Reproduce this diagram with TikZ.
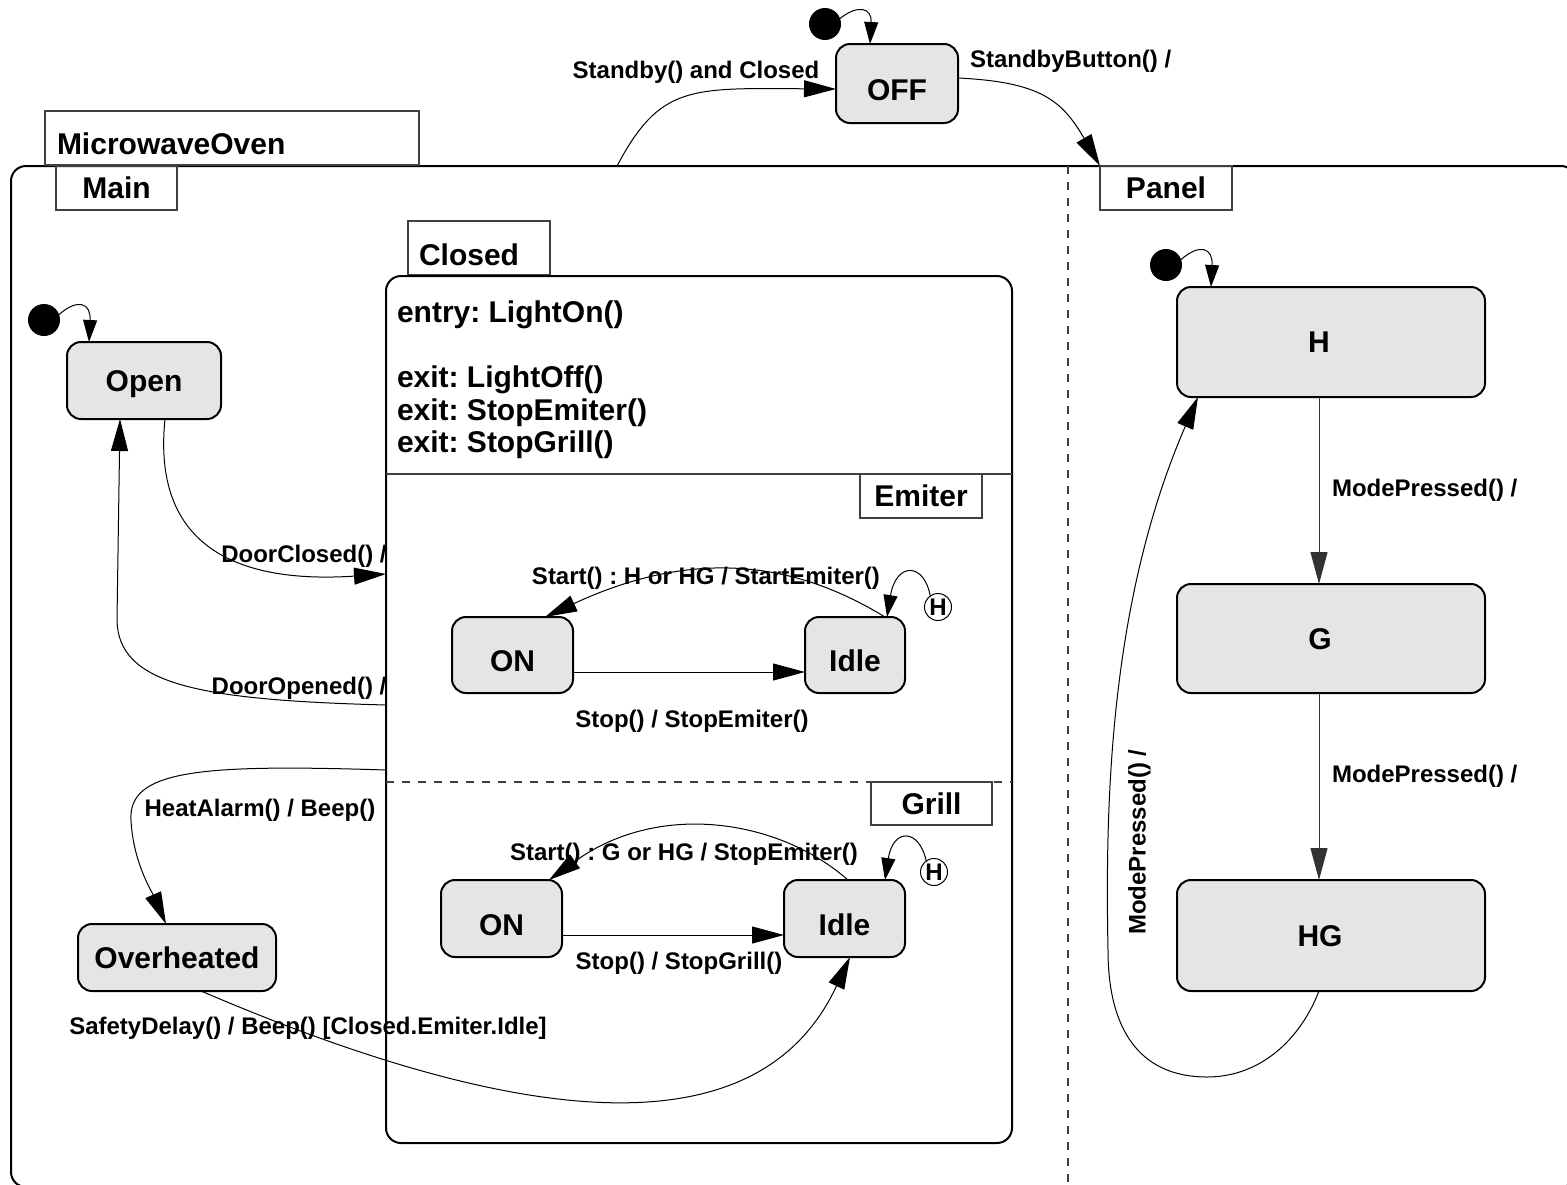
\documentclass[tikz,border=0pt]{standalone}
\usepackage{fontspec}
\setmainfont{Liberation Sans}
\usetikzlibrary{arrows.meta}
\frenchspacing

\begin{document}
\begin{tikzpicture}[x=1pt,y=-1pt,
  every node/.style={outer sep=0pt},
  big/.style={font=\bfseries\fontsize{30}{36}\selectfont},
  small/.style={font=\bfseries\fontsize{24}{29}\selectfont},
  state/.style={draw, line width=2pt, rounded corners=14pt, fill=black!10,
    inner sep=0pt, big, text height=21.5pt, text depth=0pt},
  lowtext/.style={text height=33pt},
  statetext/.style={big, inner sep=0pt, text height=21.5pt, text depth=0pt},
  tab/.style={draw=black!75, line width=1.1pt, inner sep=0pt, big,
    text height=21.5pt, text depth=0pt},
  region/.style={draw, line width=2pt, rounded corners=15pt, inner sep=0pt},
  lbl/.style={small, inner sep=0pt, text height=17pt, text depth=0pt},
  trans/.style={line width=1pt, -{Triangle[length=32pt,width=17pt]}},
  ptrans/.style={line width=1pt, -{Triangle[length=22pt,width=14pt]}},
  initial/.style={circle, fill=black, minimum size=32pt, inner sep=0pt},
  hist/.style={circle, draw, line width=1pt, minimum size=27pt, inner sep=0pt,
    small, text height=17pt, text depth=0pt},
  divider/.style={black!75, line width=1.2pt, dash pattern=on 8pt off 8pt},
]
\useasboundingbox (0,0) rectangle (1567,1184);
\clip (0,0) rectangle (1567,1184);

% ---------- top level: oven region and its tabs ----------
\node[region, minimum width=1565pt, minimum height=1021pt] (oven) at (793.5,676.5) {};
\node[tab, minimum width=374pt, minimum height=54pt, text width=350pt, align=left,
      text height=32pt] (tmw) at (232,138) {MicrowaveOven};
\node[tab, minimum width=121pt, minimum height=44pt] (tmain) at (116.5,188) {Main};
\node[tab, minimum width=132pt, minimum height=44pt] (tpanel) at (1166,188) {Panel};

% concurrent split between Main and Panel
\coordinate (split) at (1068,166);
\draw[divider] (split) -- (split |- oven.south);

% ---------- Closed composite state ----------
\node[tab, minimum width=142pt, minimum height=54pt, text width=120pt, align=left,
      text height=34pt] (tclosed) at (479,248) {Closed};
\node[region, minimum width=626pt, minimum height=867pt] (closed) at (699,709.5) {};
\node[big, anchor=base west, inner sep=0pt] (entry) at (397,322) {entry: LightOn()};
\node[big, anchor=base west, inner sep=0pt] (exita) at (397,387) {exit: LightOff()};
\node[big, anchor=base west, inner sep=0pt] (exitb) at (397,420) {exit: StopEmiter()};
\node[big, anchor=base west, inner sep=0pt] (exitc) at (397,452) {exit: StopGrill()};

\node[tab, minimum width=122pt, minimum height=44pt] (temiter) at (921,496) {Emiter};
\node[tab, minimum width=121pt, minimum height=43pt] (tgrill) at (931.5,803.5) {Grill};
\draw[black!75, line width=1.5pt] (closed.west |- temiter.north) -- (closed.east |- temiter.north);
\draw[divider] (closed.west |- tgrill.north) -- (closed.east |- tgrill.north);

% ---------- OFF ----------
\node[state, lowtext, minimum width=122pt, minimum height=79pt] (off) at (897,83.5) {OFF};
\node[initial] (i1) at (825,24) {};
\draw[ptrans] (i1.20) .. controls (858,4) and (872,8) .. ([xshift=-27pt]off.north);
\draw[trans] ([xshift=606pt]oven.north west) .. controls (660,85) and (690,88) .. ([yshift=-5.5pt]off.west);
\node[lbl] (lstandby) at (696,70) {Standby() and Closed};
\draw[trans] ([yshift=5.5pt]off.east) .. controls (1040,82) and (1062,100) .. (tpanel.north west);
\node[lbl, anchor=west] (lbutton) at (970,59) {StandbyButton() /};

% ---------- Main region ----------
\node[state, minimum width=154pt, minimum height=77pt] (open) at (144,380.5) {Open};
\node[initial] (i2) at (44,320) {};
\draw[ptrans] (i2.20) .. controls (78,298) and (91,303) .. ([xshift=-55pt]open.north);
\node[state, minimum width=198pt, minimum height=67pt] (overheated) at (177,957.5) {Overheated};

\draw[trans] ([xshift=21pt]open.south) .. controls (152,545) and (235,584) .. ([yshift=135.5pt]closed.west);
\node[lbl] (ldclosed) at (304,554) {DoorClosed() /};

\draw[trans] ([yshift=4.5pt]closed.west) .. controls (200,700) and (118,685) .. (117,620)
  -- ([xshift=-24pt]open.south);
\node[lbl] (ldopened) at (299,686) {DoorOpened() /};

\draw[trans] ([yshift=-60.5pt]closed.west) .. controls (200,764) and (128,770) .. (131,820)
  .. controls (133,862) and (152,892) .. ([xshift=-11pt]overheated.north);
\node[lbl] (lheat) at (260,808) {HeatAlarm() / Beep()};

% ---------- Emiter region ----------
\node[state, lowtext, minimum width=121pt, minimum height=76pt] (eon) at (512.5,655) {ON};
\node[state, lowtext, minimum width=100pt, minimum height=76pt] (eidle) at (855,655) {Idle};
\node[hist] (eh) at (938,607) {H};
\draw[trans] ([yshift=-17pt]eon.east) -- ([yshift=-17pt]eidle.west);
\node[lbl] (lestop) at (692,719) {Stop() / StopEmiter()};
\draw[trans] ([xshift=30pt]eidle.north) .. controls (800,565) and (700,545) .. ([xshift=32.5pt]eon.north);
\node[lbl] (lestart) at (706,576) {Start() : H or HG / StartEmiter()};
\draw[ptrans] (eh.125) .. controls (924,562) and (896,562) .. ([xshift=32pt]eidle.north);

% ---------- Grill region ----------
\node[state, lowtext, minimum width=121pt, minimum height=77pt] (gon) at (501.5,918.5) {ON};
\node[state, lowtext, minimum width=121pt, minimum height=77pt] (gidle) at (844.5,918.5) {Idle};
\node[hist] (gh) at (934,872) {H};
\draw[trans] ([yshift=-16.5pt]gon.east) -- ([yshift=-16.5pt]gidle.west);
\node[lbl] (lgstop) at (679,961) {Stop() / StopGrill()};
\draw[trans] ([xshift=3.5pt]gidle.north) .. controls (780,820) and (660,800) .. ([xshift=47.5pt]gon.north);
\node[lbl] (lgstart) at (684,852) {Start() : G or HG / StopEmiter()};
\draw[ptrans] (gh.125) .. controls (919,828) and (893,828) .. ([xshift=40.5pt]gidle.north);

% Overheated back to the idle grill
\draw[trans] ([xshift=24pt]overheated.south) .. controls (600,1162) and (775,1118) .. ([xshift=5.5pt]gidle.south);
\node[lbl] (lsafety) at (308,1026) {SafetyDelay() / Beep() [Closed.Emiter.Idle]};

% ---------- Panel region ----------
\node[state, minimum width=308pt, minimum height=110pt,
      label={[statetext, xshift=-12pt]center:H}] (h) at (1331,342) {};
\node[state, minimum width=308pt, minimum height=109pt,
      label={[statetext, xshift=-11pt]center:G}] (g) at (1331,638.5) {};
\node[state, minimum width=308pt, minimum height=111pt,
      label={[statetext, xshift=-11pt]center:HG}] (hg) at (1331,935.5) {};
\node[initial] (i3) at (1166,265) {};
\draw[ptrans] (i3.20) .. controls (1200,243) and (1213,248) .. ([xshift=-120pt]h.north);

\draw[trans, black!80] ([xshift=-12pt]h.south) -- ([xshift=-12pt]g.north);
\node[lbl, anchor=west] (lmode1) at (1332,488) {ModePressed() /};
\draw[trans, black!80] ([xshift=-12pt]g.south) -- ([xshift=-12pt]hg.north);
\node[lbl, anchor=west] (lmode2) at (1332,774) {ModePressed() /};

\draw[trans] ([xshift=-12pt]hg.south) .. controls (1300,1040) and (1260,1077) .. (1207,1077)
  .. controls (1140,1077) and (1108,1030) .. (1108,950)
  .. controls (1105,800) and (1110,600) .. ([xshift=-133pt]h.south);
\node[lbl, rotate=90] (lmode3) at (1137,842) {ModePressed() /};
\end{tikzpicture}
\end{document}
